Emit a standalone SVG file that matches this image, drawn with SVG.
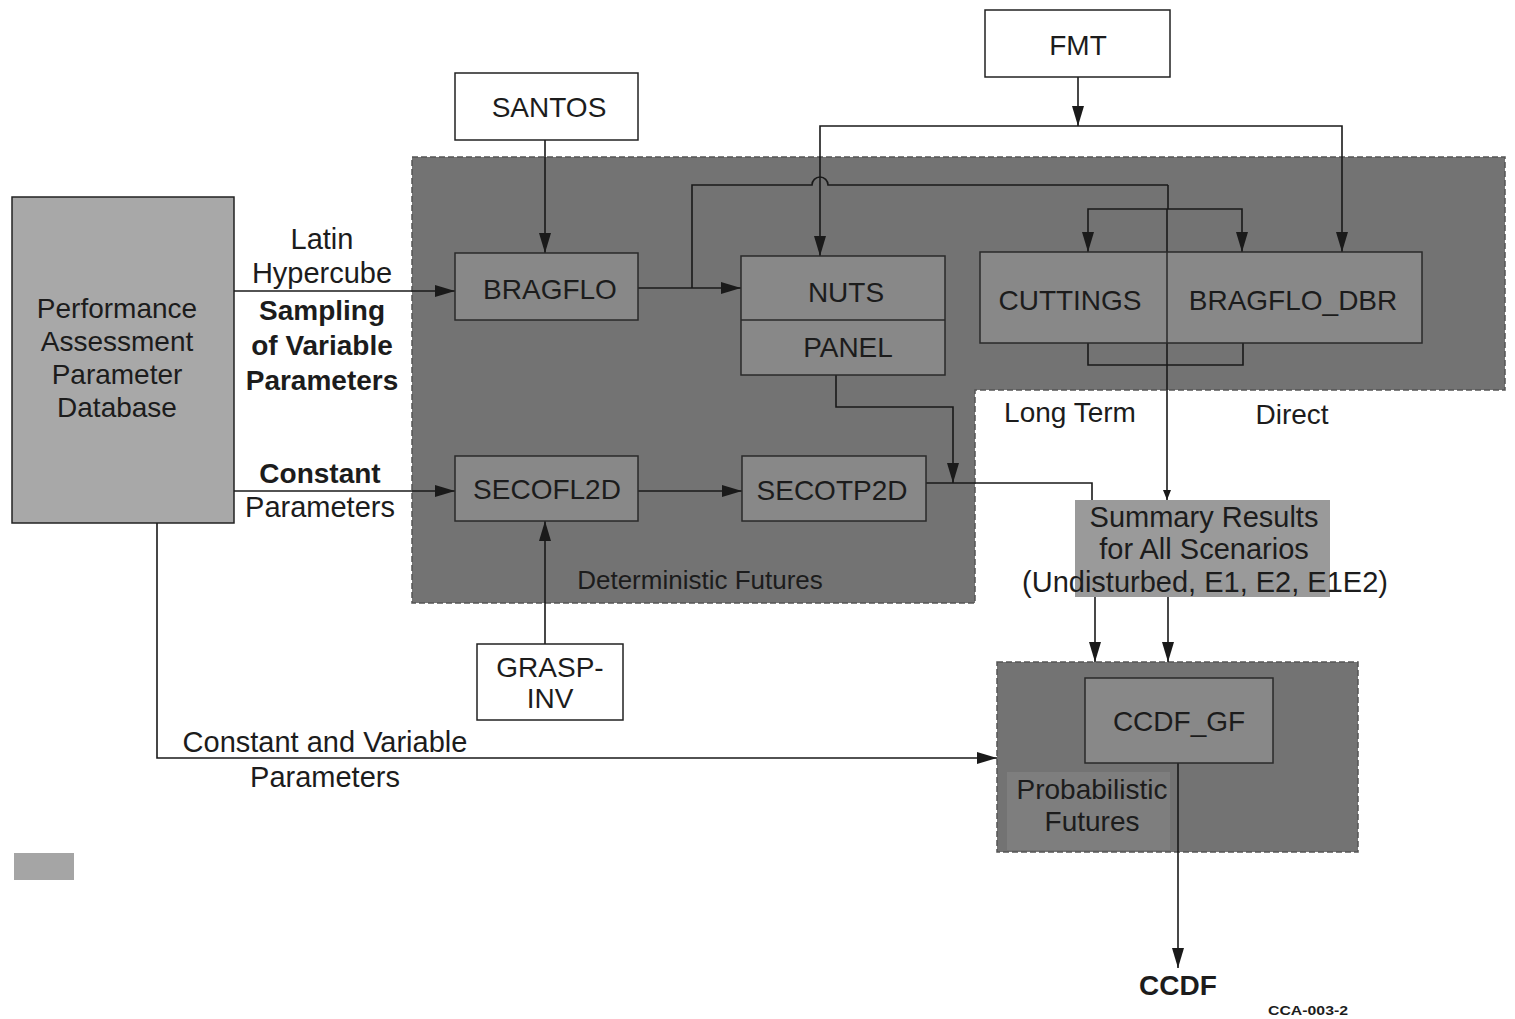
<svg xmlns="http://www.w3.org/2000/svg" width="1515" height="1019" viewBox="0 0 1515 1019">
<defs>
<marker id="ah" markerWidth="20" markerHeight="12" refX="20" refY="6" orient="auto" markerUnits="userSpaceOnUse"><path d="M0,0 L20,6 L0,12 Z" fill="#1a1a1a"/></marker>
<marker id="ahs" markerWidth="10" markerHeight="8" refX="10" refY="4" orient="auto" markerUnits="userSpaceOnUse"><path d="M0,0 L10,4 L0,8 Z" fill="#1a1a1a"/></marker>
</defs>
<style>
text{font-family:"Liberation Sans",Arial,sans-serif;font-size:28px;fill:#1c1c1c;text-anchor:middle}
.b{font-weight:bold}
.w{font-size:29px}
.box{fill:#fff;stroke:#222;stroke-width:1.5}
.node{fill:#888;stroke:#2a2a2a;stroke-width:1.5}
.region{fill:#737373;stroke:#555;stroke-width:1.5;stroke-dasharray:6 3}
.ln{fill:none;stroke:#1a1a1a;stroke-width:1.6}
.arr{fill:none;stroke:#1a1a1a;stroke-width:1.6;marker-end:url(#ah)}
</style>
<rect width="1515" height="1019" fill="#fff"/>

<g id="deterministic-futures">
<path class="region" d="M412,157 H1505 V390 H975 V603 H412 Z"/>
<text x="700" y="589" style="font-size:26px">Deterministic Futures</text>
</g>
<g id="probabilistic-futures">
<rect class="region" x="997" y="662" width="361" height="190"/>
<rect x="1007" y="772" width="163" height="78" fill="#7e7e7e"/>
<text x="1092" y="799">Probabilistic</text>
<text x="1092" y="831">Futures</text>
</g>

<g id="connectors">
<path class="arr" d="M234,291 H455"/>
<path class="arr" d="M234,491 H455"/>
<path class="arr" d="M638,491 H742"/>
<path class="arr" d="M545,644 V521"/>
<path class="arr" d="M545,140 V253"/>
<path class="arr" d="M1078,77 V126"/>
<path class="arr" d="M1078,126 H820 V256"/>
<path class="arr" d="M1078,126 H1342 V252"/>
<path class="arr" d="M638,288 H741"/>
<path class="ln" d="M692,288 V185 H812 A8,8 0 0 1 828,185 H1168"/>
<path class="ln" d="M1168,185 V209"/>
<path class="arr" d="M1168,209 H1088 V252"/>
<path class="arr" d="M1168,209 H1242 V252"/>
<path class="ln" d="M1088,343 V365 H1243 V343"/>
<path class="ln" d="M1167,209 V500" style="marker-end:url(#ahs)"/>
<path class="arr" d="M836,375 V407 H953 V483"/>
<path class="ln" d="M926,483 H1092 V500"/>
<path class="arr" d="M1095,597 V662"/>
<path class="arr" d="M1168,597 V662"/>
<path class="arr" d="M1178,763 V968"/>
<path class="arr" d="M157,523 V758 H997"/>
</g>

<g id="db">
<rect x="12" y="197" width="222" height="326" fill="#a8a8a8" stroke="#222" stroke-width="1.5"/>
<text x="117" y="318">Performance</text>
<text x="117" y="351">Assessment</text>
<text x="117" y="384">Parameter</text>
<text x="117" y="417">Database</text>
</g>
<g id="label-lhs">
<text x="322" y="249" class="w">Latin</text>
<text x="322" y="283" class="w">Hypercube</text>
<text x="322" y="320" class="b">Sampling</text>
<text x="322" y="355" class="b">of Variable</text>
<text x="322" y="390" class="b">Parameters</text>
</g>
<g id="label-const">
<text x="320" y="483" class="b">Constant</text>
<text x="320" y="517" class="w">Parameters</text>
</g>
<g id="label-cv">
<text x="325" y="752" class="w">Constant and Variable</text>
<text x="325" y="787" class="w">Parameters</text>
</g>

<g id="santos"><rect class="box" x="455" y="73" width="183" height="67"/><text x="549" y="117">SANTOS</text></g>
<g id="fmt"><rect class="box" x="985" y="10" width="185" height="67"/><text x="1078" y="55">FMT</text></g>
<g id="bragflo"><rect class="node" x="455" y="253" width="183" height="67"/><text x="550" y="299">BRAGFLO</text></g>
<g id="nuts-panel"><rect class="node" x="741" y="256" width="204" height="119"/><line x1="741" y1="320" x2="945" y2="320" stroke="#2a2a2a" stroke-width="1.5"/><text x="846" y="302">NUTS</text><text x="848" y="357">PANEL</text></g>
<g id="cuttings-dbr"><rect class="node" x="980" y="252" width="442" height="91"/><line x1="1167" y1="252" x2="1167" y2="343" stroke="#2a2a2a" stroke-width="1.5"/><text x="1070" y="310">CUTTINGS</text><text x="1293" y="310">BRAGFLO_DBR</text></g>
<g id="secofl2d"><rect class="node" x="455" y="456" width="183" height="65"/><text x="547" y="499">SECOFL2D</text></g>
<g id="secotp2d"><rect class="node" x="742" y="456" width="184" height="65"/><text x="832" y="500">SECOTP2D</text></g>
<g id="grasp-inv"><rect class="box" x="477" y="644" width="146" height="76"/><text x="550" y="677">GRASP-</text><text x="550" y="708">INV</text></g>
<g id="summary"><rect x="1075" y="500" width="255" height="97" fill="#9a9a9a"/><text x="1204" y="527" class="w">Summary Results</text><text x="1204" y="559" class="w">for All Scenarios</text><text x="1205" y="592" class="w">(Undisturbed, E1, E2, E1E2)</text></g>
<g id="ccdf-gf"><rect class="node" x="1085" y="678" width="188" height="85" fill="#8c8c8c"/><text x="1179" y="731">CCDF_GF</text></g>
<g id="labels">
<text x="1070" y="422">Long Term</text>
<text x="1292" y="424">Direct</text>
<text x="1178" y="995" class="b">CCDF</text>
<text x="1308" y="1015" class="b" style="font-size:13px" textLength="80" lengthAdjust="spacingAndGlyphs">CCA-003-2</text>
</g>
<rect id="legend" x="14" y="853" width="60" height="27" fill="#a5a5a5"/>
</svg>
